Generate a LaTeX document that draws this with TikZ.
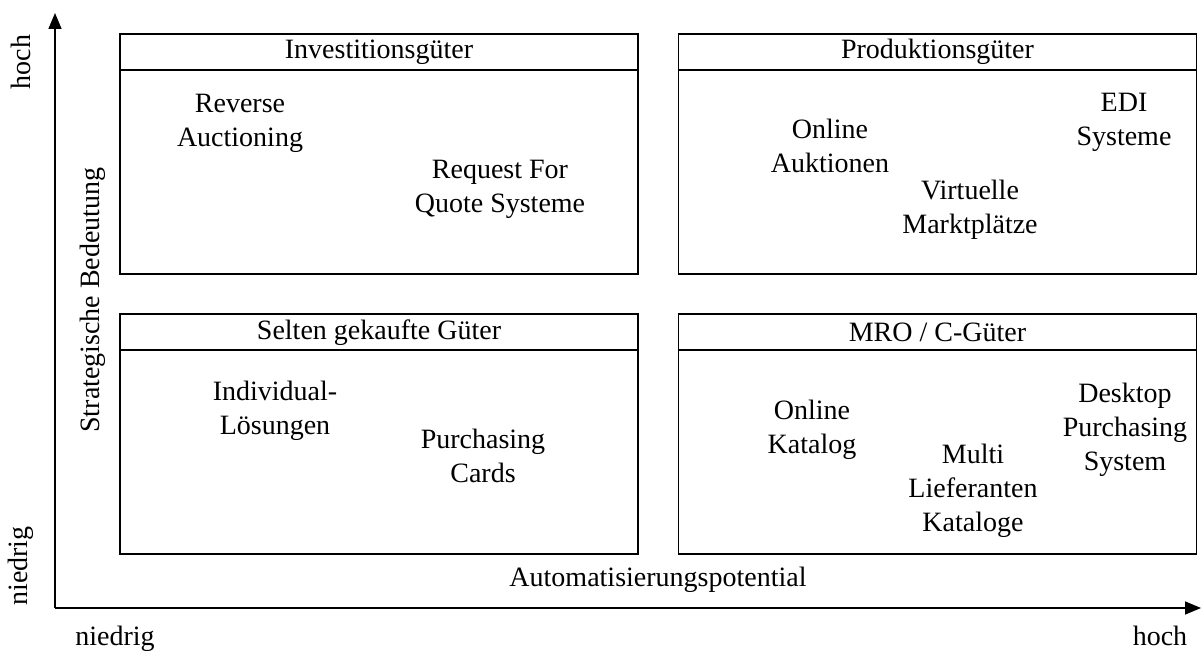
\documentclass[tikz,border=0pt]{standalone}
\usepackage{fontspec}
\setmainfont{Liberation Serif}
\usetikzlibrary{arrows.meta,calc}
\begin{document}
\begin{tikzpicture}[x=1pt,y=-1pt,
  txt/.style={align=center,inner sep=0pt,font=\fontsize{28}{34}\selectfont},
  quad/.style={draw,line width=1.6pt,rectangle,inner sep=0pt,minimum width=518pt,minimum height=240pt},
  sep/.style={line width=1.6pt},
  axis/.style={line width=1.6pt,-{Triangle[length=16pt,width=13pt]}}]
\useasboundingbox (0,0) rectangle (1203,655);

% axes
\coordinate (origin) at (55,608);
\coordinate (ytip) at (55,13);
\coordinate (xtip) at (1201,608);
\draw[axis] (origin) -- (ytip);
\draw[axis] (origin) -- (xtip);

% axis labels
\node[txt,rotate=90] (yhigh) at (21,62) {hoch};
\node[txt,rotate=90] (ylow) at (21,566) {niedrig};
\node[txt,rotate=90] (ylab) at (93,300) {Strategische Bedeutung};
\node[txt,anchor=base] (xlow) at (115,645) {niedrig};
\node[txt,anchor=base] (xhigh) at (1160,645) {hoch};
\node[txt] (xlab) at (658,580) {Automatisierungspotential};

% four quadrants with header bars
\node[quad] (tl) at (379,154) {};
\node[quad] (tr) at (937.5,154) {};
\node[quad] (bl) at (379,434) {};
\node[quad] (br) at (937.5,434) {};
\foreach \q in {tl,tr,bl,br}{
  \draw[sep] ($(\q.north west)+(0,37)$) -- ($(\q.north east)+(0,37)$);
}

% headers
\node[txt] (htl) at ($(tl.north)+(0,19)$) {Investitionsgüter};
\node[txt] (htr) at ($(tr.north)+(0,19)$) {Produktionsgüter};
\node[txt] (hbl) at ($(bl.north)+(0,19)$) {Selten gekaufte Güter};
\node[txt] (hbr) at ($(br.north)+(0,19)$) {MRO / C-Güter};

% top left
\node[txt] (rev) at (240,123) {Reverse\\Auctioning};
\node[txt] (rfq) at (500,189) {Request For\\Quote Systeme};
% top right
\node[txt] (oa) at (830,146) {Online\\Auktionen};
\node[txt] (edi) at (1124,122) {EDI\\Systeme};
\node[txt] (vm) at (970,210) {Virtuelle\\Marktplätze};
% bottom left
\node[txt] (ind) at (275,411) {Individual-\\Lösungen};
\node[txt] (pc) at (483,456) {Purchasing\\Cards};
% bottom right
\node[txt] (ok) at (812,430) {Online\\Katalog};
\node[txt] (mlk) at (973,491) {Multi\\Lieferanten\\Kataloge};
\node[txt] (dps) at (1125,430) {Desktop\\Purchasing\\System};
\end{tikzpicture}
\end{document}
